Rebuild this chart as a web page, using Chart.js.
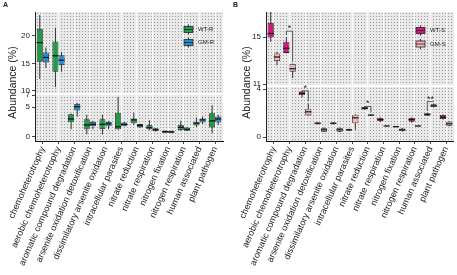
<!DOCTYPE html>
<html>
<head>
<meta charset="utf-8">
<script src="https://cdn.jsdelivr.net/npm/chart.js@4.4.1/dist/chart.umd.min.js"></script>
<style>
  body { margin: 0; background: #fff; }
  #wrap { position: relative; width: 457px; height: 275px; }
  canvas { position: absolute; top: 0; }
</style>
</head>
<body>
<div id="wrap">
  <canvas id="chartA" width="228" height="275" style="left:0"></canvas>
  <canvas id="chartB" width="229" height="275" style="left:228px"></canvas>
</div>
<script>
const categories = ['chemoheterotrophy', 'aerobic chemoheterotrophy', 'aromatic compound degradation',
  'arsenite oxidation detoxification', 'dissimilatory arsenite oxidation', 'intracellular parasites',
  'nitrate reduction', 'nitrate respiration', 'nitrogen fixation', 'nitrogen respiration',
  'human associated', 'plant pathogen'];

// box stats for each category: [min, q1, median, q3, max]
const wtR = [[12.2, 15.3, 18.8, 21.3, 23.8], [10.7, 13.5, 16.4, 19.0, 21.5], [1.3, 2.45, 3.0, 3.8, 3.9],
  [0.45, 1.3, 2.0, 2.95, 3.7], [0.45, 1.33, 2.1, 2.95, 3.7], [1.2, 1.3, 1.7, 4.05, 6.7],
  [2.0, 2.3, 2.85, 3.1, 4.05], [1.1, 1.3, 1.55, 2.0, 2.8], [0.65, 0.7, 0.9, 1.05, 1.1],
  [1.0, 1.15, 1.6, 2.0, 2.7], [1.7, 1.9, 2.3, 2.55, 3.25], [0.6, 1.6, 2.7, 3.95, 5.3]];
const gmR = [[14.2, 15.2, 16.1, 17.0, 17.9], [13.5, 14.7, 15.6, 16.5, 17.1], [3.4, 4.4, 5.05, 5.5, 5.7],
  [1.3, 1.8, 2.1, 2.5, 2.7], [1.3, 1.8, 2.2, 2.5, 2.7], [1.8, 1.8, 2.1, 2.4, 2.5],
  [1.5, 1.6, 1.9, 2.15, 2.2], [0.9, 1.0, 1.2, 1.45, 1.5], [0.65, 0.7, 0.85, 1.0, 1.05],
  [1.0, 1.05, 1.3, 1.6, 1.65], [2.2, 2.4, 2.85, 3.1, 3.4], [2.0, 2.4, 3.0, 3.4, 3.7]];
const wtS = [[14.6, 14.95, 15.3, 16.2, 17.3], [13.6, 13.65, 14.05, 14.6, 15.0], [3.3, 3.5, 3.65, 3.8, 3.85],
  [1.05, 1.1, 1.15, 1.2, 1.25], [1.05, 1.1, 1.15, 1.2, 1.25], [0.5, 0.55, 0.6, 0.65, 0.7],
  [2.25, 2.3, 2.4, 2.5, 2.55], [1.25, 1.33, 1.45, 1.6, 1.65], [0.82, 0.84, 0.86, 0.88, 0.9],
  [1.2, 1.28, 1.45, 1.6, 1.65], [1.75, 1.78, 1.9, 1.97, 2.0], [1.45, 1.5, 1.65, 1.83, 1.88]];
const gmS = [[12.6, 12.95, 13.3, 13.6, 13.75], [11.5, 12.05, 12.3, 12.7, 12.75], [1.8, 1.8, 2.1, 2.35, 2.8],
  [0.4, 0.45, 0.6, 0.73, 0.8], [0.4, 0.45, 0.6, 0.75, 0.8], [0.6, 1.15, 1.6, 1.85, 1.9],
  [1.78, 1.8, 1.83, 1.86, 1.9], [0.88, 0.9, 0.92, 0.94, 0.96], [0.45, 0.5, 0.6, 0.72, 0.75],
  [0.88, 0.9, 0.92, 0.94, 0.96], [2.45, 2.5, 2.6, 2.73, 2.78], [0.9, 0.94, 1.1, 1.28, 1.32]];

// broken y axis: the first categories sit on the upper segment
const upperCount = 2;
const ticksATop = [10, 15, 20];
const ticksABot = [0, 5, 7];
const ticksBTop = [11, 15];
const ticksBBot = [0, 4];

// significance brackets in panel B
const sigIndex = [1, 2, 6, 10];
const sigText = ['*', '*', '*', '**'];
const sigLevel = [15.5, 3.85, 2.55, 2.95];

const FONT = "'Liberation Sans', Arial, sans-serif";

function stipple(ctx) {
  const c = document.createElement('canvas');
  c.width = 3; c.height = 3;
  const g = c.getContext('2d');
  g.fillStyle = '#e9e9e9';
  g.fillRect(0, 0, 3, 3);
  g.fillStyle = '#9a9a9a';
  g.fillRect(1, 1, 1, 1);
  return ctx.createPattern(c, 'repeat');
}

const boxPlugin = {
  id: 'boxes',
  beforeDraw(chart) {
    const { ctx, chartArea: a } = chart;
    ctx.save();
    ctx.fillStyle = stipple(ctx);
    ctx.fillRect(a.left, a.top, a.width, a.height);
    ctx.restore();
  },
  beforeDatasetsDraw(chart) {
    const { ctx, chartArea: a, scales } = chart;
    // white gap between the two axis segments
    ctx.save();
    ctx.fillStyle = '#fff';
    ctx.fillRect(a.left + 1, scales.yTop.bottom - 1, a.width, 2);
    // whiskers
    ctx.strokeStyle = '#333';
    ctx.lineWidth = 1;
    chart.data.datasets.forEach((ds, i) => {
      const meta = chart.getDatasetMeta(i);
      const ys = scales[ds.yAxisID];
      ds.data.forEach((d, j) => {
        if (!d) return;
        const el = meta.data[j];
        const st = ds.stats[j];
        ctx.save();
        ctx.beginPath();
        ctx.rect(a.left, ys.top, a.width, ys.bottom - ys.top);
        ctx.clip();
        ctx.beginPath();
        ctx.moveTo(el.x, ys.getPixelForValue(st[0]));
        ctx.lineTo(el.x, ys.getPixelForValue(st[4]));
        ctx.stroke();
        ctx.restore();
      });
    });
    ctx.restore();
  },
  afterDatasetsDraw(chart, args, opts) {
    const { ctx, scales } = chart;
    ctx.save();
    // medians
    ctx.strokeStyle = '#111';
    ctx.lineWidth = 1.2;
    chart.data.datasets.forEach((ds, i) => {
      const meta = chart.getDatasetMeta(i);
      const ys = scales[ds.yAxisID];
      ds.data.forEach((d, j) => {
        if (!d) return;
        const el = meta.data[j];
        const y = ys.getPixelForValue(ds.stats[j][2]);
        ctx.beginPath();
        ctx.moveTo(el.x - el.width / 2, y);
        ctx.lineTo(el.x + el.width / 2, y);
        ctx.stroke();
      });
    });
    // significance brackets
    if (opts.sig) {
      ctx.strokeStyle = '#333';
      ctx.lineWidth = 0.8;
      ctx.fillStyle = '#222';
      ctx.font = '9px ' + FONT;
      ctx.textAlign = 'center';
      ctx.textBaseline = 'bottom';
      sigIndex.forEach((i, k) => {
        const top = i < upperCount;
        const ys = top ? scales.yTop : scales.yBot;
        const wEl = chart.getDatasetMeta(top ? 0 : 2).data[i];
        const gEl = chart.getDatasetMeta(top ? 1 : 3).data[i];
        const wMax = chart.data.datasets[0].stats[i][4];
        const gMax = chart.data.datasets[1].stats[i][4];
        const yb = ys.getPixelForValue(sigLevel[k]);
        ctx.beginPath();
        ctx.moveTo(wEl.x, Math.max(yb, ys.getPixelForValue(wMax) - 2));
        ctx.lineTo(wEl.x, yb);
        ctx.lineTo(gEl.x, yb);
        ctx.lineTo(gEl.x, Math.max(yb, ys.getPixelForValue(gMax) - 2));
        ctx.stroke();
        ctx.fillText(sigText[k], (wEl.x + gEl.x) / 2, yb + 2);
      });
    }
    ctx.restore();
  },
  afterDraw(chart, args, opts) {
    const { ctx, chartArea: a } = chart;
    ctx.save();
    // legend
    chart.data.datasets.slice(0, 2).forEach((ds, k) => {
      const x = opts.legendX, y = opts.legendY + k * opts.legendDy;
      ctx.strokeStyle = '#333';
      ctx.lineWidth = 1;
      ctx.beginPath();
      ctx.moveTo(x + 4.5, y - 5);
      ctx.lineTo(x + 4.5, y + 5);
      ctx.stroke();
      ctx.fillStyle = ds.backgroundColor;
      ctx.fillRect(x, y - 3, 9, 6);
      ctx.strokeStyle = '#262626';
      ctx.lineWidth = 0.8;
      ctx.strokeRect(x, y - 3, 9, 6);
      ctx.beginPath();
      ctx.moveTo(x, y);
      ctx.lineTo(x + 9, y);
      ctx.stroke();
      ctx.fillStyle = '#222';
      ctx.font = '6px ' + FONT;
      ctx.textAlign = 'left';
      ctx.textBaseline = 'middle';
      ctx.fillText(ds.stack, x + 14, y);
    });
    // y title spanning both segments
    ctx.translate(opts.titleX, (a.top + a.bottom) / 2 + 6);
    ctx.rotate(-Math.PI / 2);
    ctx.font = '10.5px ' + FONT;
    ctx.fillStyle = '#222';
    ctx.textAlign = 'center';
    ctx.textBaseline = 'middle';
    ctx.fillText('Abundance (%)', 0, 0);
    ctx.restore();
    // panel letter
    ctx.save();
    ctx.font = 'bold 7px ' + FONT;
    ctx.fillStyle = '#222';
    ctx.textBaseline = 'top';
    ctx.fillText(opts.letter, opts.letterX, 2);
    ctx.restore();
  }
};

function yAxis(range, ticks, weight, order, width) {
  return {
    type: 'linear',
    position: 'left',
    stack: 'y',
    stackWeight: weight,
    weight: order,
    stacked: false,
    min: range[0],
    max: range[1],
    afterBuildTicks: s => { s.ticks = ticks.map(v => ({ value: v })); },
    afterFit: s => { s.width = width; },
    grid: { drawOnChartArea: false, tickLength: 3, tickColor: '#444' },
    border: { color: '#222', width: 1 },
    ticks: { font: { size: 8, family: FONT }, color: '#222', padding: 2, callback: v => v }
  };
}

function makePanel(id, names, series, colors, p) {
  const boxes = (s, top) => s.map((v, i) => ((i < upperCount) === top ? [v[1], v[3]] : null));
  const set = (k, top) => ({
    label: names[k],
    stack: names[k],
    stats: series[k],
    data: boxes(series[k], top),
    yAxisID: top ? 'yTop' : 'yBot',
    backgroundColor: colors[k],
    borderColor: '#262626',
    borderWidth: 0.8,
    borderSkipped: false,
    barPercentage: 1,
    categoryPercentage: p.catPct
  });
  return new Chart(document.getElementById(id), {
    type: 'bar',
    data: {
      labels: categories,
      datasets: [set(0, true), set(1, true), set(0, false), set(1, false)]
    },
    options: {
      responsive: false,
      animation: false,
      layout: { padding: p.padding },
      scales: {
        x: {
          type: 'category',
          offset: true,
          grid: { offset: false, color: 'rgba(255,255,255,0.9)', lineWidth: 1, tickLength: 3, tickColor: '#444' },
          border: { color: '#111', width: 1 },
          ticks: { autoSkip: false, minRotation: 66, maxRotation: 66, font: { size: 9, family: FONT }, color: '#222', padding: 1 },
          afterFit: s => { s.height = 134; }
        },
        yBot: yAxis(p.botRange, p.botTicks, p.weights[1], 1, p.yWidth),
        yTop: yAxis(p.topRange, p.topTicks, p.weights[0], 2, p.yWidth)
      },
      plugins: {
        legend: { display: false },
        tooltip: { enabled: false },
        boxes: p.decor
      }
    },
    plugins: [boxPlugin]
  });
}

makePanel('chartA', ['WT-R', 'GM-R'], [wtR, gmR], ['#1f9a47', '#1e8fd2'], {
  catPct: 0.78,
  padding: { left: 0, right: 5, top: 12, bottom: 0 },
  yWidth: 35,
  topRange: [9.45, 24.36], topTicks: ticksATop,
  botRange: [-0.67, 7.17], botTicks: ticksABot,
  weights: [82, 47],
  decor: { legendX: 184, legendY: 29.5, legendDy: 13, titleX: 13, letter: 'A', letterX: 3, sig: false }
});

makePanel('chartB', ['WT-S', 'GM-S'], [wtS, gmS], ['#d1167c', '#f3b6b4'], {
  catPct: 0.8,
  padding: { left: 0, right: 0, top: 12, bottom: 0 },
  yWidth: 38,
  topRange: [10.83, 17.13], topTicks: ticksBTop,
  botRange: [-0.33, 4.25], botTicks: ticksBBot,
  weights: [74, 55],
  decor: { legendX: 188, legendY: 30.5, legendDy: 13.5, titleX: 19, letter: 'B', letterX: 5, sig: true }
});
</script>
</body>
</html>
